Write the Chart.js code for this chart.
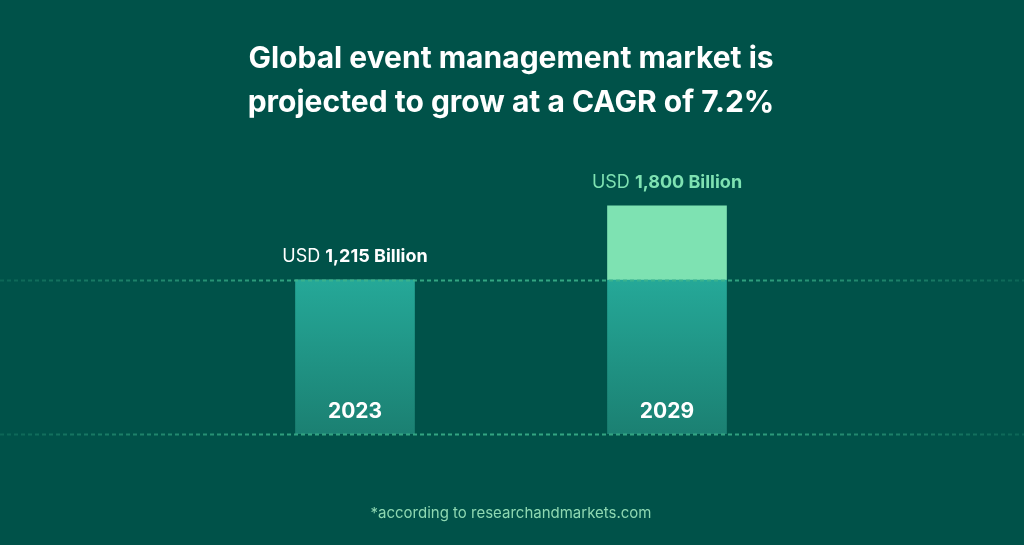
<!DOCTYPE html>
<html>
<head>
<meta charset="utf-8">
<script src="https://cdn.jsdelivr.net/npm/chart.js@4"></script>
<style>
  html, body { margin: 0; padding: 0; background: #005249; }
  #wrap { width: 1024px; height: 545px; }
</style>
</head>
<body>
<div id="wrap"><canvas id="c" width="1024" height="545"></canvas></div>
<script>
// ---- data ----
const categories = ['2023', '2029'];
const marketValues = [1215, 1800];          // USD billion
const titleLines = ['Global event management market is', 'projected to grow at a CAGR of 7.2%'];
const footnote = '*according to researchandmarkets.com';
const unitPrefix = 'USD';
const unitSuffix = 'Billion';

const baseValue = marketValues[0];
const baseSeries = categories.map(() => baseValue);
const growthSeries = marketValues.map(v => v - baseValue);

const BG = '#005249';
const LIGHT = '#7ee2b2';
const FONT = 'Inter, "Noto Sans", sans-serif';

function baseGradient(ctx) {
  const chart = ctx.chart;
  const { chartArea, scales } = chart;
  if (!chartArea) return '#22a191';
  const yTop = scales.y.getPixelForValue(baseValue);
  const yBot = scales.y.getPixelForValue(0);
  const g = chart.ctx.createLinearGradient(0, yTop, 0, yBot);
  g.addColorStop(0, '#25a898');
  g.addColorStop(1, '#1b8072');
  return g;
}

const decorPlugin = {
  id: 'decor',
  afterDatasetsDraw(chart) {
    const { ctx, scales, width } = chart;
    const x = scales.x, y = scales.y;
    // dashed reference lines at baseline and 2023 level
    [baseValue, 0].forEach(v => {
      const py = Math.round(y.getPixelForValue(v)) + 0.5;
      const g = ctx.createLinearGradient(0, 0, width, 0);
      g.addColorStop(0, 'rgba(60,180,140,0.2)');
      g.addColorStop(0.3, 'rgba(60,180,140,0.85)');
      g.addColorStop(0.7, 'rgba(60,180,140,0.85)');
      g.addColorStop(1, 'rgba(60,180,140,0.2)');
      ctx.save();
      ctx.strokeStyle = g;
      ctx.lineWidth = 2;
      ctx.setLineDash([4, 3]);
      ctx.beginPath();
      ctx.moveTo(0, py);
      ctx.lineTo(width, py);
      ctx.stroke();
      ctx.restore();
    });
    // value labels above bars and year labels inside bars
    categories.forEach((cat, i) => {
      const cx = x.getPixelForValue(i);
      const topY = y.getPixelForValue(marketValues[i]);
      const botY = y.getPixelForValue(0);
      const color = i === 0 ? '#ffffff' : LIGHT;
      const pre = unitPrefix + ' ';
      const post = marketValues[i].toLocaleString('en-US') + ' ' + unitSuffix;
      ctx.save();
      ctx.textBaseline = 'alphabetic';
      ctx.textAlign = 'left';
      ctx.font = '400 18px ' + FONT;
      const w1 = ctx.measureText(pre).width;
      ctx.font = '700 18px ' + FONT;
      const w2 = ctx.measureText(post).width;
      const sx = cx - (w1 + w2) / 2;
      ctx.fillStyle = color;
      ctx.font = '400 18px ' + FONT;
      ctx.fillText(pre, sx, topY - 18);
      ctx.font = '700 18px ' + FONT;
      ctx.fillText(post, sx + w1, topY - 18);
      ctx.textAlign = 'center';
      ctx.fillStyle = '#ffffff';
      ctx.font = '700 21px ' + FONT;
      ctx.fillText(cat, cx, botY - 16);
      ctx.restore();
    });
  }
};

new Chart(document.getElementById('c'), {
  type: 'bar',
  data: {
    labels: categories,
    datasets: [
      { label: 'Base', data: baseSeries, backgroundColor: baseGradient, borderWidth: 0, barThickness: 119 },
      { label: 'Growth', data: growthSeries, backgroundColor: LIGHT, borderWidth: 0, barThickness: 119 }
    ]
  },
  options: {
    responsive: false,
    animation: false,
    devicePixelRatio: 1,
    layout: { padding: { left: 199, right: 201, top: 0, bottom: 0 } },
    scales: {
      x: { stacked: true, display: false },
      y: { stacked: true, display: false, min: 0, max: 2000 }
    },
    plugins: {
      legend: { display: false },
      tooltip: { enabled: false },
      title: {
        display: true,
        text: titleLines,
        color: '#ffffff',
        font: { family: FONT, size: 30, weight: '700', lineHeight: 1.467 },
        padding: { top: 37, bottom: 55.5 }
      },
      subtitle: {
        display: true,
        position: 'bottom',
        text: footnote,
        color: '#8ed8b2',
        font: { family: FONT, size: 15, weight: '400', lineHeight: 1.2 },
        padding: { top: 70, bottom: 23 }
      }
    }
  },
  plugins: [decorPlugin]
});
</script>
</body>
</html>
